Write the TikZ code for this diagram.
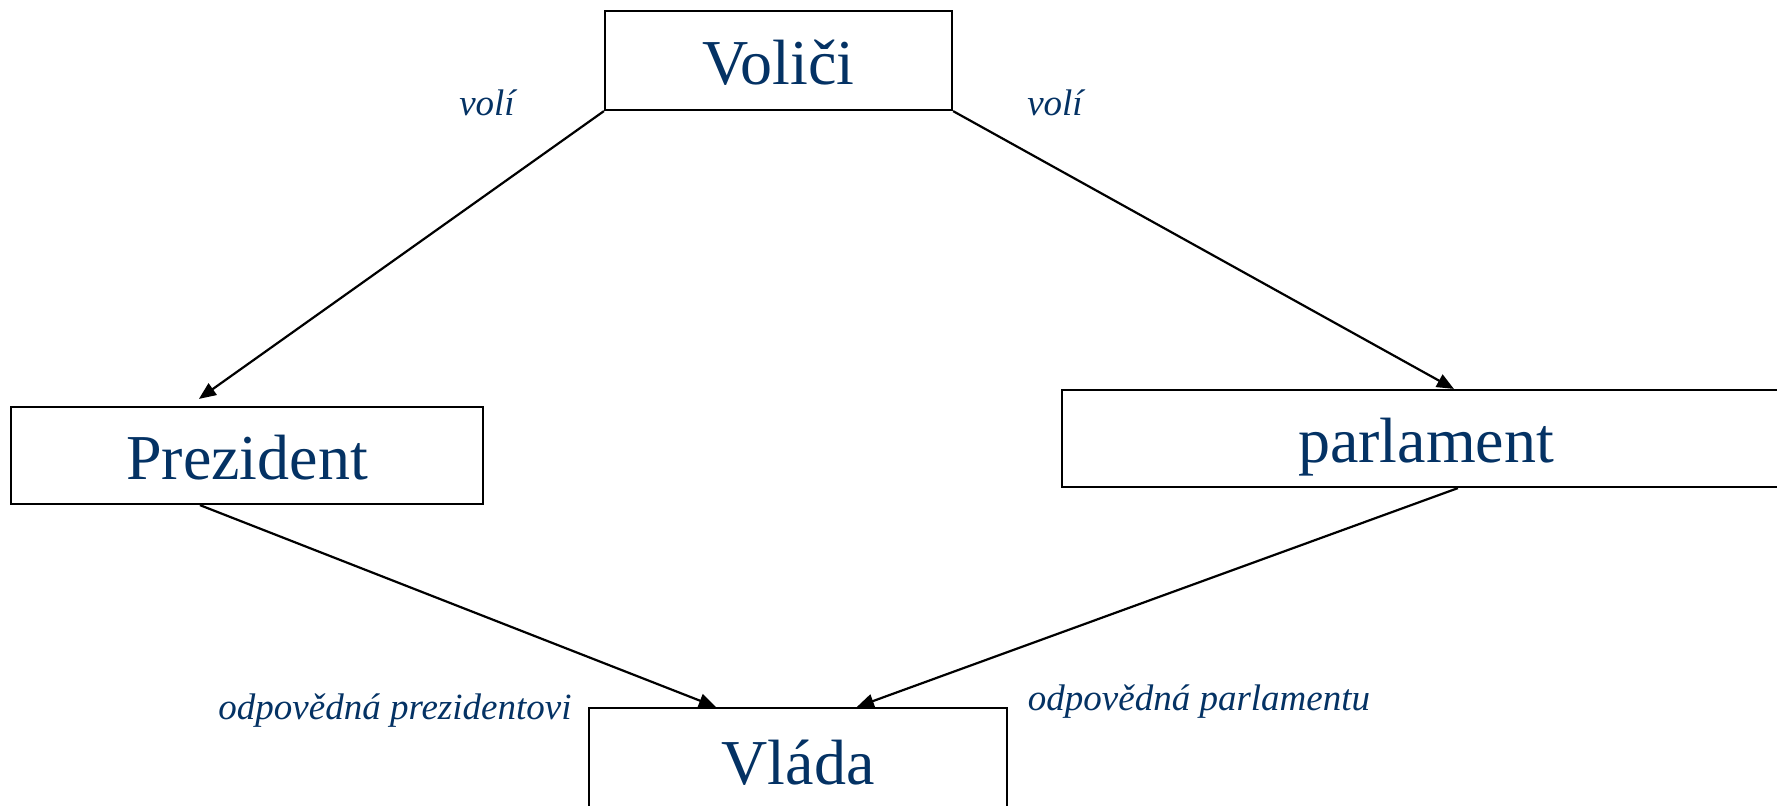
\documentclass[tikz,border=0pt]{standalone}
\usepackage{fontspec}
\setmainfont{Liberation Serif}
\usetikzlibrary{arrows.meta}
\definecolor{navy}{RGB}{4,50,100}
\begin{document}
\begin{tikzpicture}[x=0.5pt,y=-0.5pt,
  box/.style={draw=black,line width=1.1pt,inner sep=0pt,text=navy,
    font=\fontsize{32}{36}\selectfont,text height=24pt,text depth=0pt},
  lbl/.style={text=navy,inner sep=0pt,anchor=base,
    font=\fontsize{18.5}{22}\itshape\selectfont},
  arr/.style={line width=1.1pt,-{Triangle[length=8.5pt,width=7pt]}}]
\useasboundingbox (0,0) rectangle (1777,805);
\clip (0,0) rectangle (1777,805);
\node[box,minimum width=173.5pt,minimum height=49.5pt] (V) at (778.5,60.5) {Voliči};
\node[box,minimum width=236pt,minimum height=48.5pt] (P) at (247,455.5) {Prezident};
\node[box,minimum width=364pt,minimum height=48.5pt] (Pa) at (1426,438.5) {parlament};
\node[box,minimum width=209pt,minimum height=52pt] (Vl) at (798,760) {Vláda};
\draw[arr] (V.south west) -- ([shift={(189,-7)}]P.north west);
\draw[arr] (V.south east) -- ([shift={(393,0)}]Pa.north west);
\draw[arr] ([shift={(190,0)}]P.south west) -- ([shift={(128,0)}]Vl.north west);
\draw[arr] ([shift={(397,0)}]Pa.south west) -- ([shift={(269,0)}]Vl.north west);
\node[lbl] (l1) at (487,115) {volí};
\node[lbl] (l2) at (1055,115) {volí};
\node[lbl] (l3) at (395,719) {odpovědná prezidentovi};
\node[lbl] (l4) at (1199,710) {odpovědná parlamentu};
\end{tikzpicture}
\end{document}
